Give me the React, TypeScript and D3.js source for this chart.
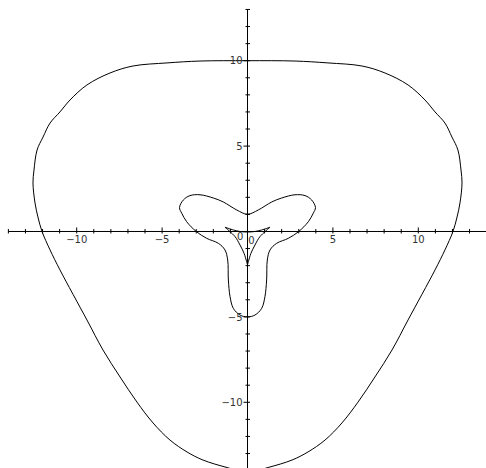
import React from "react";
import * as d3 from "d3";

// Left halves of the symmetric curves, traced from the top of the y-axis
// down to the bottom; the right halves are their reflections in x = 0.
const outerLeft: [number, number][] = [
  [0, 10.0], [-2.78, 9.98], [-4.71, 9.87], [-6.7, 9.69], [-8.05, 9.28],
  [-9.4, 8.58], [-10.39, 7.7], [-10.98, 7.0], [-11.56, 6.35], [-11.97, 5.53],
  [-12.32, 4.77], [-12.5, 3.6], [-12.56, 2.84], [-12.44, 1.67], [-12.27, 0.85],
  [-12.03, 0], [-11.56, -1.08], [-10.98, -2.25], [-9.4, -5.18], [-8.46, -6.94],
  [-7.46, -8.52], [-6.47, -9.99], [-5.53, -11.21], [-4.54, -12.21],
  [-3.54, -12.91], [-2.61, -13.38], [-1.2, -13.82], [0, -14.1],
];

const middleLeft: [number, number][] = [
  [0, 1.01], [-0.63, 1.26], [-1.42, 1.73], [-2.0, 1.96], [-2.78, 2.15],
  [-3.37, 2.1], [-3.76, 1.84], [-3.98, 1.4], [-3.85, 1.07], [-3.56, 0.57],
  [-3.0, 0], [-2.39, -0.4], [-1.71, -0.69], [-1.32, -1.08], [-1.16, -1.67],
  [-1.12, -2.84], [-1.02, -3.82], [-0.83, -4.5], [-0.44, -4.89], [0, -5.0],
];

// The small three-cusped curve, as its three arcs between cusps.
const innerTop: [number, number][] = [
  [-1.32, 0.25], [-0.83, 0.09], [-0.44, 0.0], [0, -0.03],
  [0.44, 0.0], [0.83, 0.09], [1.32, 0.25],
];
const innerLeftArc: [number, number][] = [
  [-1.32, 0.25], [-0.73, -0.3], [-0.44, -0.79], [-0.2, -1.28],
  [-0.05, -1.77], [0, -1.95],
];
const innerRightArc: [number, number][] = [
  [1.32, 0.25], [0.73, -0.3], [0.44, -0.79], [0.2, -1.28],
  [0.05, -1.77], [0, -1.95],
];

const xTicks = d3.range(-14, 15);
const yTicks = d3.range(-14, 14);
const xLabels = [-10, -5, 5, 10];
const yLabels = [10, 5, -5, -10];

const W = 486;
const H = 468;

function closeSymmetric(left: [number, number][]): [number, number][] {
  const right = left
    .slice(1, -1)
    .reverse()
    .map(([x, y]) => [-x, y] as [number, number]);
  return [...left, ...right];
}

const fmt = (v: number) => (v < 0 ? "\u2212" + Math.abs(v) : String(v));

export default function App() {
  const x = d3.scaleLinear().domain([-14, 14]).range([8.38, 486.62]);
  const y = d3.scaleLinear().domain([-14, 13]).range([470.6, 9.46]);

  const closed = d3
    .line<[number, number]>()
    .x((d) => x(d[0]))
    .y((d) => y(d[1]))
    .curve(d3.curveCatmullRomClosed.alpha(0.5));
  const open = d3
    .line<[number, number]>()
    .x((d) => x(d[0]))
    .y((d) => y(d[1]))
    .curve(d3.curveCatmullRom.alpha(0.5));

  const x0 = x(0);
  const y0 = y(0);
  const font = "'DejaVu Sans', Verdana, sans-serif";

  return (
    <svg
      width={W}
      height={H}
      style={{ position: "absolute", left: 0, top: 0, background: "#fff" }}
    >
      {/* axes */}
      <g stroke="#000" strokeWidth={1}>
        <line x1={x(-14)} x2={x(14)} y1={y0} y2={y0} />
        <line x1={x0} x2={x0} y1={y(13)} y2={y(-14)} />
        {xTicks.map((t) => (
          <line
            key={"xt" + t}
            x1={x(t)}
            x2={x(t)}
            y1={y0 - (t % 5 === 0 ? 4 : 2.5)}
            y2={y0 + 2}
          />
        ))}
        {yTicks.map((t) => (
          <line
            key={"yt" + t}
            x1={x0 - (t % 5 === 0 ? 4 : 2)}
            x2={x0 + 2.5}
            y1={y(t)}
            y2={y(t)}
          />
        ))}
      </g>

      {/* curves */}
      <g fill="none" stroke="#000" strokeWidth={1}>
        <path d={closed(closeSymmetric(outerLeft)) ?? ""} />
        <path d={closed(closeSymmetric(middleLeft)) ?? ""} />
        <path d={open(innerTop) ?? ""} />
        <path d={open(innerLeftArc) ?? ""} />
        <path d={open(innerRightArc) ?? ""} />
      </g>

      {/* tick labels */}
      <g fontFamily={font} fontSize={10} fill="#333">
        {xLabels.map((v) => (
          <text key={"xl" + v} x={x(v)} y={y0 + 12} textAnchor="middle">
            {fmt(v)}
          </text>
        ))}
        <text x={x0 + 0.8} y={y0 + 12.5} textAnchor="start">
          0
        </text>
        {yLabels.map((v) => (
          <text
            key={"yl" + v}
            x={x0 - 5}
            y={y(v) + 3.7}
            textAnchor="end"
          >
            {fmt(v)}
          </text>
        ))}
        <text x={x0 - 4.2} y={y0 + 8.5} textAnchor="end">
          0
        </text>
      </g>
    </svg>
  );
}
